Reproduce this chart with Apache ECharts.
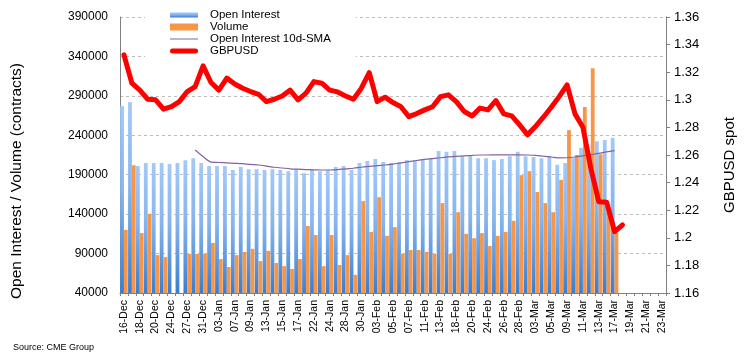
<!DOCTYPE html>
<html>
<head>
<meta charset="utf-8">
<script src="https://cdn.jsdelivr.net/npm/echarts@6/dist/echarts.min.js"></script>
<style>html,body{margin:0;padding:0;background:#fff}#c{width:750px;height:358px}</style>
</head>
<body>
<div id="c"></div>
<script>
const categories = ['16-Dec','17-Dec','18-Dec','19-Dec','20-Dec','23-Dec','24-Dec','26-Dec','27-Dec','30-Dec','31-Dec',
'02-Jan','03-Jan','06-Jan','07-Jan','08-Jan','09-Jan','10-Jan','13-Jan','14-Jan','15-Jan','16-Jan','17-Jan','21-Jan','22-Jan','23-Jan','24-Jan','27-Jan','28-Jan','29-Jan','30-Jan','31-Jan',
'03-Feb','04-Feb','05-Feb','06-Feb','07-Feb','10-Feb','11-Feb','12-Feb','13-Feb','14-Feb','18-Feb','19-Feb','20-Feb','21-Feb','24-Feb','25-Feb','26-Feb','27-Feb','28-Feb',
'02-Mar','03-Mar','04-Mar','05-Mar','06-Mar','09-Mar','10-Mar','11-Mar','12-Mar','13-Mar','16-Mar','17-Mar','18-Mar','19-Mar','20-Mar','21-Mar','22-Mar','23-Mar'];

const openInterest = [277000,282000,201000,205000,205000,205000,203500,205000,208500,211000,205000,
201000,201000,201000,196000,200000,197000,197000,196000,197000,196000,194500,197000,192000,196000,194500,196000,200000,201000,196000,205000,207500,
210000,206000,205000,206000,208500,208500,210000,211000,220000,219000,220000,213500,215000,211000,211000,208500,210000,213500,219000,
213500,212500,211000,213500,202500,205000,211000,224000,218000,232500,234000,236500];

const volume = [120000,202000,116000,140500,88000,85500,null,null,89500,89500,89500,
103500,83000,73000,88000,92000,96000,80500,93500,78000,74000,70500,83000,125000,113500,74000,113500,75500,88000,63000,156500,117500,
161500,112500,123500,89500,94500,94500,92000,89500,154000,89500,142500,115000,109500,116000,99500,112500,117500,131500,189500,
194500,168000,154000,142500,183500,246500,215000,276000,325000,216000,146000,116000];

const oiSMA10 = [null,null,null,null,null,null,null,null,null,221300,213000,
206000,205500,205000,204500,204000,203000,202300,201000,199500,198500,197500,197000,196500,196200,196000,196000,196500,197500,198200,199500,200500,
201500,202300,203500,205000,206500,208000,209500,210500,211500,212500,213300,214000,214500,215000,215000,215200,215200,215200,215200,
215000,214500,213500,212500,211300,211500,212500,214000,215500,217000,219000,220500];

const gbpusd = [1.3326,1.312,1.307,1.3004,1.300,1.2932,1.295,1.2987,1.306,1.3096,1.3246,
1.3125,1.307,1.3157,1.3115,1.3084,1.306,1.304,1.2987,1.3004,1.3028,1.307,1.300,1.3048,1.3132,1.312,1.307,1.3057,1.3028,1.3004,1.3084,1.3197,
1.2987,1.3019,1.298,1.295,1.2878,1.290,1.2927,1.295,1.3023,1.3036,1.2987,1.2915,1.2883,1.294,1.2927,1.2994,1.2898,1.2883,1.2818,
1.2746,1.2806,1.2874,1.2946,1.3023,1.3108,1.2898,1.2801,1.2504,1.2262,1.2258,1.2045,1.2093];

const leftTicks = [40000,90000,140000,190000,240000,290000,340000,390000];
const rightTicks = [1.16,1.18,1.20,1.22,1.24,1.26,1.28,1.30,1.32,1.34,1.36];

const BASE = leftTicks[0];
const shift = arr => arr.map(v => v == null ? null : v - BASE);
const FONT = '"Liberation Sans", Arial, Helvetica, sans-serif';

const chart = echarts.init(document.getElementById('c'), null, {renderer: 'canvas'});
chart.setOption({
  animation: false,
  backgroundColor: '#fff',
  textStyle: {fontFamily: FONT},
  grid: {left: 120, right: 84, top: 17, bottom: 65, containLabel: false},
  legend: {
    orient: 'vertical', left: 145, top: 4,
    padding: [5, 25, 0, 25],
    backgroundColor: '#fff',
    itemWidth: 28, itemHeight: 7, itemGap: 0,
    symbolKeepAspect: true,
    textStyle: {fontSize: 11.5, lineHeight: 11.7, color: '#000', fontFamily: FONT, padding: [0, 0, 0, 7]},
    data: [
      {name: 'Open Interest', icon: 'path://M0,0H28V5H0Z'},
      {name: 'Volume', icon: 'path://M0,0H28V7H0Z'},
      {name: 'Open Interest 10d-SMA', icon: 'path://M0,0H28V1H0Z'},
      {name: 'GBPUSD', icon: 'path://M2.5,0H25.5A2.5,2.5 0 0 1 25.5,5H2.5A2.5,2.5 0 0 1 2.5,0Z'}
    ]
  },
  xAxis: {
    type: 'category', data: categories,
    axisLine: {lineStyle: {color: '#808080', width: 1}},
    axisTick: {show: true, interval: 0, length: 3, lineStyle: {color: '#808080'}},
    axisLabel: {interval: 1, rotate: 90, fontSize: 10.5, color: '#000', margin: 7, fontFamily: FONT},
    splitLine: {show: false}
  },
  yAxis: [
    {
      type: 'value', min: 0, max: leftTicks[leftTicks.length - 1] - BASE, interval: leftTicks[1] - leftTicks[0],
      axisLine: {show: true, lineStyle: {color: '#808080'}},
      axisTick: {show: false},
      axisLabel: {formatter: v => String(v + BASE), fontSize: 12, color: '#000', margin: 12, fontFamily: FONT},
      splitLine: {show: true, lineStyle: {color: '#bdbdbd', type: [3, 3], width: 1}}
    },
    {
      type: 'value', min: rightTicks[0], max: rightTicks[rightTicks.length - 1], interval: 0.02,
      position: 'right',
      axisLine: {show: true, lineStyle: {color: '#808080'}},
      axisTick: {show: true, length: 4, lineStyle: {color: '#808080'}},
      axisLabel: {fontSize: 13, color: '#000', margin: 8, fontFamily: FONT},
      splitLine: {show: false}
    }
  ],
  series: [
    {
      name: 'Open Interest', type: 'bar', yAxisIndex: 0, data: shift(openInterest),
      barGap: '0%', barCategoryGap: '4%',
      itemStyle: {color: new echarts.graphic.LinearGradient(0, 0, 0, 1, [
        {offset: 0, color: '#a3c9f9'}, {offset: 0.45, color: '#86b5ef'}, {offset: 1, color: '#3a7dcf'}])},
      z: 2
    },
    {
      name: 'Volume', type: 'bar', yAxisIndex: 0, data: shift(volume),
      itemStyle: {color: '#f79646'},
      z: 2
    },
    {
      name: 'Open Interest 10d-SMA', type: 'line', yAxisIndex: 0, data: shift(oiSMA10),
      smooth: 0.3, symbol: 'none', showSymbol: false, lineStyle: {color: '#8064a2', width: 1.2}, itemStyle: {color: '#8064a2'},
      z: 3
    },
    {
      name: 'GBPUSD', type: 'line', yAxisIndex: 1, data: gbpusd,
      symbol: 'none', showSymbol: false, lineStyle: {color: '#ff0000', width: 5, cap: 'round', join: 'round'}, itemStyle: {color: '#ff0000'},
      z: 4
    }
  ],
  graphic: [
    {type: 'text', x: 17, y: 181, rotation: Math.PI / 2,
      style: {text: 'Open Interest / Volume (contracts)', fill: '#000', font: '15.5px ' + FONT, textAlign: 'center', textVerticalAlign: 'middle'}},
    {type: 'text', x: 730, y: 165, rotation: Math.PI / 2,
      style: {text: 'GBPUSD spot', fill: '#000', font: '15px ' + FONT, textAlign: 'center', textVerticalAlign: 'middle'}},
    {type: 'text', x: 13, y: 348,
      style: {text: 'Source: CME Group', fill: '#000', font: '9px ' + FONT, textAlign: 'left', textVerticalAlign: 'middle'}}
  ]
});
</script>
</body>
</html>
